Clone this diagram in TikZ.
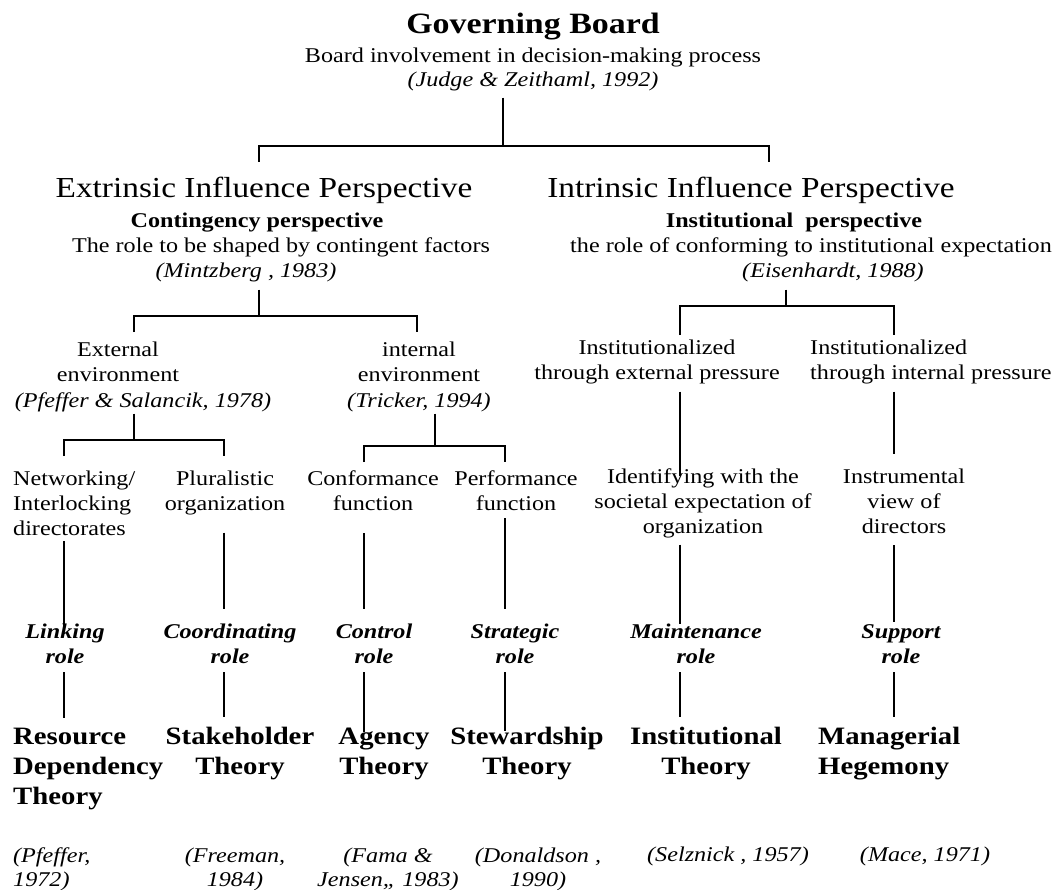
\documentclass[tikz,border=0pt]{standalone}
\usepackage{fontspec}
\setmainfont{Liberation Serif}[FakeStretch=1.15]
\tikzset{
    body/.style={font=\fontsize{21}{25}\selectfont, align=center, anchor=base, inner sep=2pt},
    cite/.style={font=\fontsize{21}{24}\selectfont\itshape, align=center, anchor=base, inner sep=2pt},
    role/.style={font=\fontsize{21}{25}\selectfont\bfseries\itshape, align=center, anchor=base, inner sep=2pt},
    theory/.style={font=\fontsize{25}{30}\selectfont\bfseries, align=center, anchor=base, inner sep=2pt},
    persp/.style={font=\fontsize{29}{34}\selectfont, anchor=base, inner sep=2pt},
    branch/.style={line width=1.5pt},
}
\begin{document}
\begin{tikzpicture}[x=1pt,y=-1pt]
    \useasboundingbox (0,0) rectangle (1059,890);
    % top (multi-line nodes sit on the baseline of their last line)
    \node[persp,font=\fontsize{29.5}{34}\selectfont\bfseries] (gov) at (533,34) {Governing Board};
    \node[body] (invol) at (533,63) {Board involvement in decision-making process};
    \node[cite] (judge) at (533,87) {(Judge \& Zeithaml, 1992)};
    % two perspectives
    \node[persp] (extr) at (264,198) {Extrinsic Influence Perspective};
    \node[body,font=\fontsize{21}{25}\selectfont\bfseries] (conting) at (257,228) {Contingency perspective};
    \node[body] (extrole) at (281,253) {The role to be shaped by contingent factors};
    \node[cite] (mintz) at (246,278) {(Mintzberg , 1983)};
    \node[persp] (intr) at (751,198) {Intrinsic Influence Perspective};
    \node[body,font=\fontsize{21}{25}\selectfont\bfseries] (instit) at (794,228) {Institutional~~perspective};
    \node[body] (intrrole) at (811,253) {the role of conforming to institutional expectation};
    \node[cite] (eisen) at (833,278) {(Eisenhardt, 1988)};
    % second level
    \node[body] (extenv) at (118,381) {External\\environment};
    \node[cite] (pfeffer) at (143,407) {(Pfeffer \& Salancik, 1978)};
    \node[body] (intenv) at (419,381) {internal\\environment};
    \node[cite] (tricker) at (419,407) {(Tricker, 1994)};
    \node[body] (extp) at (657,379) {Institutionalized\\through external pressure};
    \node[body,anchor=base west,align=left] (intp) at (808,379) {Institutionalized\\through internal pressure};
    % third level
    \node[body,anchor=base west,align=left] (netw) at (11,535) {Networking/\\Interlocking\\directorates};
    \node[body] (plural) at (225,510) {Pluralistic\\organization};
    \node[body] (conf) at (373,510) {Conformance\\function};
    \node[body] (perf) at (516,510) {Performance\\function};
    \node[body] (ident) at (703,533) {Identifying with the\\societal expectation of\\organization};
    \node[body] (instr) at (904,533) {Instrumental\\view of\\directors};
    % roles
    \node[role] (link) at (65,663) {Linking\\role};
    \node[role] (coord) at (230,663) {Coordinating\\role};
    \node[role] (ctrl) at (374,663) {Control\\role};
    \node[role] (strat) at (515,663) {Strategic\\role};
    \node[role] (maint) at (696,663) {Maintenance\\role};
    \node[role] (supp) at (901,663) {Support\\role};
    % theories
    \node[theory,anchor=base west,align=left] (rdt) at (11,804) {Resource\\Dependency\\Theory};
    \node[theory] (stake) at (240,774) {Stakeholder\\Theory};
    \node[theory] (agency) at (384,774) {Agency\\Theory};
    \node[theory] (steward) at (527,774) {Stewardship\\Theory};
    \node[theory] (instth) at (706,774) {Institutional\\Theory};
    \node[theory,anchor=base west,align=left] (manag) at (816,774) {Managerial\\Hegemony};
    % sources
    \node[cite,anchor=base west,align=left] (cpf) at (11,886) {(Pfeffer,\\1972)};
    \node[cite] (cfree) at (235,886) {(Freeman,\\1984)};
    \node[cite] (cfama) at (388,886) {(Fama \&\\Jensen,, 1983)};
    \node[cite] (cdon) at (538,886) {(Donaldson ,\\1990)};
    \node[cite] (csel) at (728,861) {(Selznick , 1957)};
    \node[cite] (cmace) at (925,861) {(Mace, 1971)};

    % brackets
    \coordinate (bar0) at (503,146);
    \coordinate (d0a) at (259,162);
    \coordinate (d0b) at (769,162);
    \draw[branch,shorten <=4pt] (judge.south -| bar0) -- (bar0);
    \draw[branch] (d0a) |- (bar0) -| (d0b);
    \coordinate (bar1) at (259,316);
    \coordinate (d1a) at (134,332);
    \coordinate (d1b) at (417,332);
    \draw[branch,shorten <=5pt] (mintz.south -| bar1) -- (bar1);
    \draw[branch] (d1a) |- (bar1) -| (d1b);
    \coordinate (bar2) at (786,306);
    \coordinate (d2a) at (680,335);
    \coordinate (d2b) at (894,335);
    \draw[branch,shorten <=5pt] (eisen.south -| bar2) -- (bar2);
    \draw[branch] (d2a) |- (bar2) -| (d2b);
    \coordinate (bar3) at (134,440);
    \coordinate (d3a) at (64,456);
    \coordinate (d3b) at (224,456);
    \draw[branch] (pfeffer.south -| bar3) -- (bar3);
    \draw[branch] (d3a) |- (bar3) -| (d3b);
    \coordinate (bar4) at (435,446);
    \coordinate (d4a) at (364,462);
    \coordinate (d4b) at (505,462);
    \draw[branch] (tricker.south -| bar4) -- (bar4);
    \draw[branch] (d4a) |- (bar4) -| (d4b);
    % straight lines
    \draw[branch,shorten <=6pt,shorten >=-10pt] (extp.south -| d2a) -- (ident.north -| d2a);
    \draw[branch,shorten <=6pt,shorten >=12pt] (intp.south -| d2b) -- (instr.north -| d2b);
    \draw[branch,shorten <=4pt,shorten >=-5pt] (netw.south -| d3a) -- (link.north -| d3a);
    \draw[branch,shorten <=16pt,shorten >=12pt] (plural.south -| d3b) -- (coord.north -| d3b);
    \draw[branch,shorten <=21pt,shorten >=12pt] (conf.south -| d4a) -- (ctrl.north -| d4a);
    \draw[branch,shorten <=6pt,shorten >=12pt] (perf.south -| d4b) -- (strat.north -| d4b);
    \draw[branch,shorten <=5pt,shorten >=-3pt] (ident.south -| d2a) -- (maint.north -| d2a);
    \draw[branch,shorten <=10pt] (instr.south -| d2b) -- (supp.north -| d2b);
    \draw[branch,shorten <=7pt,shorten >=7pt] (link.south -| d3a) -- (rdt.north -| d3a);
    \draw[branch,shorten <=7pt,shorten >=7pt] (coord.south -| d3b) -- (stake.north -| d3b);
    \draw[branch,shorten <=7pt,shorten >=-7pt] (ctrl.south -| d4a) -- (agency.north -| d4a);
    \draw[branch,shorten <=7pt,shorten >=-7pt] (strat.south -| d4b) -- (steward.north -| d4b);
    \draw[branch,shorten <=7pt,shorten >=7pt] (maint.south -| d2a) -- (instth.north -| d2a);
    \draw[branch,shorten <=7pt,shorten >=7pt] (supp.south -| d2b) -- (manag.north -| d2b);
\end{tikzpicture}
\end{document}
